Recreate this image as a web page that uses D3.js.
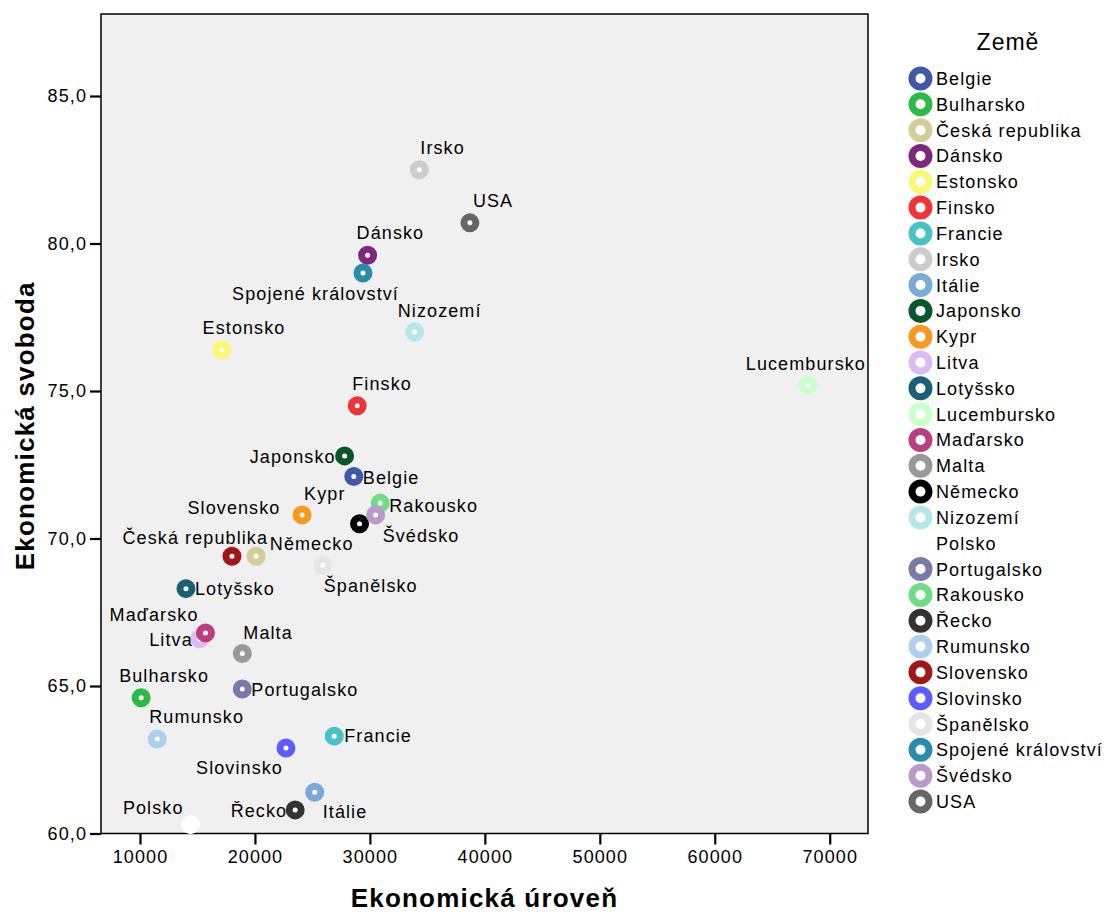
<!DOCTYPE html>
<html><head><meta charset="utf-8">
<script src="https://cdn.jsdelivr.net/npm/d3@7"></script>
<style>
body{margin:0;background:#fff;}
text{font-family:"Liberation Sans",Arial,sans-serif;}
</style></head>
<body><svg id="chart" width="1109" height="918"></svg>
<script>
const countries = ["Belgie","Bulharsko","Česká republika","Dánsko","Estonsko","Finsko","Francie","Irsko","Itálie","Japonsko","Kypr","Litva","Lotyšsko","Lucembursko","Maďarsko","Malta","Německo","Nizozemí","Polsko","Portugalsko","Rakousko","Řecko","Rumunsko","Slovensko","Slovinsko","Španělsko","Spojené království","Švédsko","USA"];
const econLevel = [28600,10100,20100,29800,17100,28900,26900,34300,25200,27800,24100,15200,14000,68100,15700,18900,29100,33900,14400,18900,30900,23500,11500,18000,22700,25900,29400,30500,38700];
const econFreedom = [72.1,64.6,69.4,79.6,76.4,74.5,63.3,82.5,61.4,72.8,70.8,66.6,68.3,75.2,66.8,66.1,70.5,77.0,60.3,64.9,71.2,60.8,63.2,69.4,62.9,69.1,79.0,70.8,80.7];
const colors = ["#3E58AC","#2EB848","#D3CE97","#7C287D","#FBF873","#EF3338","#48C2C5","#CCCCCC","#7AAAD5","#0A562C","#F8981D","#DDBAF1","#1A5F76","#CCFFCC","#BB3F7F","#999999","#000000","#B6E7E8","#FFFFFF","#797AA7","#70DC84","#333333","#ACD0EE","#A21619","#5C5CFF","#E6E6E6","#2B8BAE","#B89BC9","#666666"];
const xTicks = [10000,20000,30000,40000,50000,60000,70000];
const yTicks = [60,65,70,75,80,85];
const xTitle = "Ekonomická úroveň";
const yTitle = "Ekonomická svoboda";
const legendTitle = "Země";

// label placement (anchor, dx, dy) relative to marker centre
const labelPlace = {
 "Irsko":["start",1,-16],"USA":["start",3,-16],"Dánsko":["start",-11,-16],"Estonsko":["start",-19,-16],
 "Nizozemí":["start",-17,-15],"Spojené království":["end",36,27],"Finsko":["start",-5,-16],
 "Lucembursko":["middle",-2,-15],"Japonsko":["end",-9,7],"Belgie":["start",9,7],"Rakousko":["start",9,9],
 "Švédsko":["start",7,27],"Kypr":["start",2,-15],"Slovensko":["middle",2,-42],"Česká republika":["end",12,-12],
 "Německo":["end",-6,26],"Španělsko":["start",1,27],"Lotyšsko":["start",9,6],"Maďarsko":["end",-7,-12],
 "Litva":["end",-7,7],"Malta":["start",1,-15],"Bulharsko":["start",-22,-16],"Portugalsko":["start",9,7],
 "Rumunsko":["start",-8,-16],"Francie":["start",10,6],"Slovinsko":["end",-3,26],"Itálie":["start",8,26],
 "Řecko":["end",-8,7],"Polsko":["end",-7,-11]
};

const svg = d3.select("#chart");
const L = 101, R = 868, T = 14, B = 833.5;
const x = d3.scaleLinear().domain([6609, 73330]).range([L, R]);
const y = d3.scaleLinear().domain([60, 87.78]).range([B, T]);
const LS = "1.1px", FS = "18px";

svg.append("rect").attr("x",L).attr("y",T).attr("width",R-L).attr("height",B-T)
  .attr("fill","#F0F0F0").attr("stroke","#000").attr("stroke-width",1.5);

const xAxis = svg.append("g").attr("transform",`translate(0,${B})`)
  .call(d3.axisBottom(x).tickValues(xTicks).tickSize(11).tickPadding(6).tickFormat(d3.format("d")));
const yAxis = svg.append("g").attr("transform",`translate(${L},0)`)
  .call(d3.axisLeft(y).tickValues(yTicks).tickSize(11).tickPadding(3).tickFormat(d=>d.toFixed(1).replace(".",",")));
[xAxis,yAxis].forEach(a=>{
  a.select(".domain").remove();
  a.selectAll(".tick line").attr("stroke","#000").attr("stroke-width",2.2);
  a.selectAll(".tick text").attr("fill","#000").style("font-size",FS).style("letter-spacing",LS)
   .style("font-family","'Liberation Sans',Arial,sans-serif");
});

// points
const data = countries.map((c,i)=>({c, xv:econLevel[i], yv:econFreedom[i], col:colors[i]}));
svg.append("g").selectAll("circle").data(data).join("circle")
  .attr("cx",d=>x(d.xv)).attr("cy",d=>y(d.yv)).attr("r",6)
  .attr("fill","#fff").attr("stroke",d=>d.col).attr("stroke-width",7);

// labels
svg.append("g").selectAll("text").data(data).join("text")
  .attr("x",d=>x(d.xv)+labelPlace[d.c][1]).attr("y",d=>y(d.yv)+labelPlace[d.c][2])
  .attr("text-anchor",d=>labelPlace[d.c][0])
  .style("font-size",FS).style("letter-spacing",LS).attr("fill","#000")
  .text(d=>d.c);

// axis titles
svg.append("text").attr("x",(L+R)/2).attr("y",907).attr("text-anchor","middle")
  .style("font-size","26px").style("font-weight","bold").style("letter-spacing","1.2px").text(xTitle);
svg.append("text").attr("transform",`translate(34,${(T+B)/2+2}) rotate(-90)`).attr("text-anchor","middle")
  .style("font-size","26px").style("font-weight","bold").style("letter-spacing","1.2px").text(yTitle);

// legend
const lg = svg.append("g");
lg.append("text").attr("x",1008).attr("y",50).attr("text-anchor","middle")
  .style("font-size","23px").style("letter-spacing","1px").text(legendTitle);
const item = lg.selectAll("g.item").data(data).join("g").attr("class","item")
  .attr("transform",(d,i)=>`translate(920.5,${78.5+i*25.82})`);
item.append("circle").attr("r",8.5).attr("fill","#fff").attr("stroke",d=>d.col).attr("stroke-width",7);
item.append("text").attr("x",15.5).attr("y",6.5).style("font-size",FS).style("letter-spacing",LS).text(d=>d.c);
</script></body></html>
